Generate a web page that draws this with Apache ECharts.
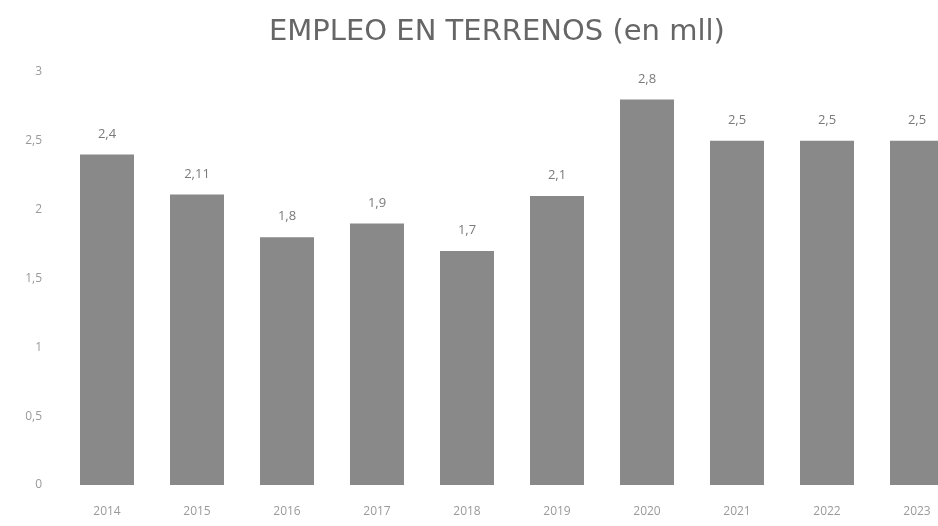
<!DOCTYPE html>
<html><head><meta charset="utf-8">
<script src="https://cdn.jsdelivr.net/npm/echarts@6/dist/echarts.min.js"></script>
<style>html,body{margin:0;padding:0;background:#fff}#c{width:938px;height:526px}</style>
</head><body><div id="c"></div>
<script>
const categories = ['2014','2015','2016','2017','2018','2019','2020','2021','2022','2023'];
const values = [2.4, 2.11, 1.8, 1.9, 1.7, 2.1, 2.8, 2.5, 2.5, 2.5];
const titleText = 'EMPLEO EN TERRENOS (en mll)';

const chart = echarts.init(document.getElementById('c'));
chart.setOption({
  backgroundColor: '#ffffff',
  animation: false,
  title: {
    text: titleText,
    left: 264, top: 13,
    textStyle: { fontFamily: 'DejaVu Sans', fontWeight: 'normal', fontSize: 29, color: '#666666' }
  },
  grid: { left: 62, top: 72, width: 900, height: 413, containLabel: false, outerBoundsMode: 'none' },
  xAxis: {
    type: 'category', data: categories,
    axisLine: { show: false }, axisTick: { show: false },
    axisLabel: { color: '#9a9a9a', fontSize: 12, margin: 21, fontFamily: 'Open Sans' }
  },
  yAxis: {
    type: 'value', min: 0, max: 3, interval: 0.5,
    splitLine: { show: false }, axisLine: { show: false }, axisTick: { show: false },
    axisLabel: { color: '#9a9a9a', fontSize: 12, margin: 20, fontFamily: 'Open Sans',
      formatter: v => String(v).replace('.', ',') }
  },
  series: [{
    type: 'bar', data: values, barWidth: '60%',
    itemStyle: { color: '#898989' },
    label: { show: true, position: 'top', distance: 14, color: '#7a7a7a', fontSize: 13,
      fontFamily: 'Open Sans', formatter: p => String(p.value).replace('.', ',') }
  }]
});
</script></body></html>
